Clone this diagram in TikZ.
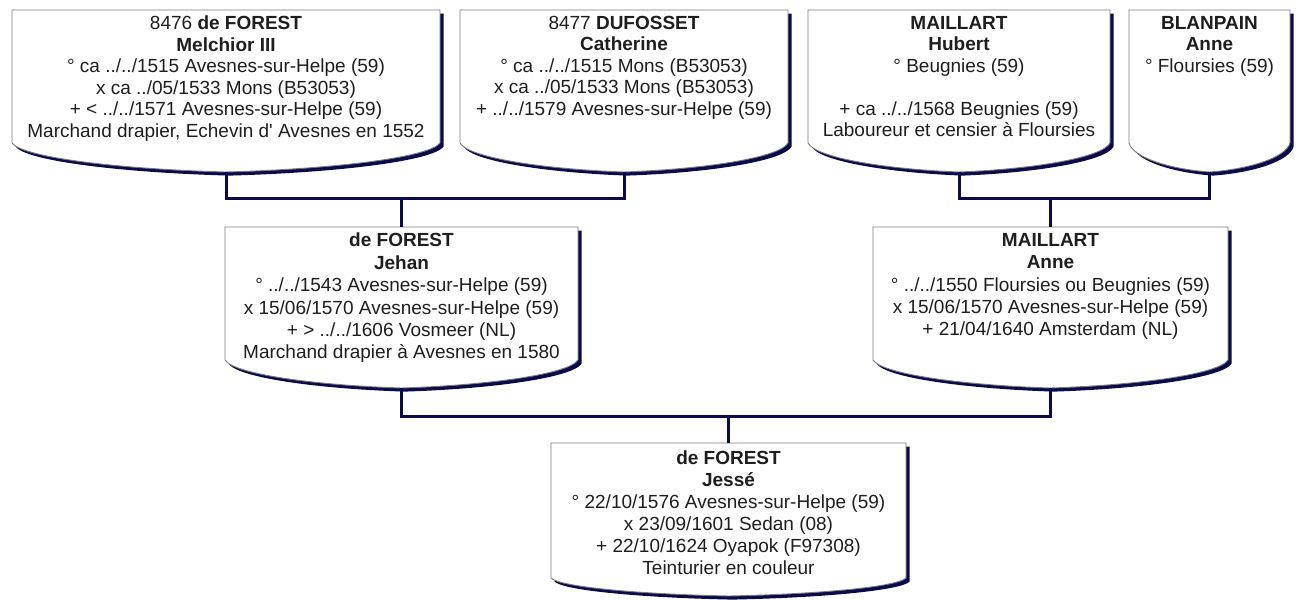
\documentclass[tikz,border=0pt]{standalone}
\usepackage{fontspec}
\setmainfont{Liberation Sans}
\definecolor{navy}{HTML}{0B0B4A}
\definecolor{edge}{HTML}{7A7A7A}
\definecolor{ink}{HTML}{1E1E1E}
\tikzset{
  cardbox/.style={fill=white, draw=edge, line width=0.9pt,
    preaction={fill=navy, transform canvas={shift={(3.6pt,-3.6pt)}}}},
  cardtext/.style={inner sep=0pt, align=center, anchor=north, text=ink},
  link/.style={draw=navy, line width=3pt}
}
% #1 id, #2 L, #3 R, #4 T, #5 side bottom, #6 point, #7 text top, #8 baselineskip, #9 text
\newcommand\famcard[9]{%
  \pgfmathsetmacro\cC{(#2+#3)/2}%
  \pgfmathsetmacro\cH{(#3-#2)/2}%
  \pgfmathsetmacro\cD{#6-#5}%
  \path[cardbox] (#2,#4) -- (#3,#4) -- (#3,#5)
    .. controls ({#3-0.05*\cH},{#5+0.5*\cD}) and ({\cC+0.5*\cH},{#5+0.9*\cD}) .. (\cC,#6)
    .. controls ({\cC-0.5*\cH},{#5+0.9*\cD}) and ({#2+0.05*\cH},{#5+0.5*\cD}) .. (#2,#5) -- cycle;
  \coordinate (#1-t) at (\cC,#4);
  \coordinate (#1-b) at (\cC,#6);
  \node[cardtext, font={\fontsize{19}{#8}\selectfont}] (#1) at (\cC,#7) {#9};
}
\begin{document}
\begin{tikzpicture}[x=1pt,y=-1pt]
\useasboundingbox[fill=white] (0,0) rectangle (1297,601);
% row 1
\famcard{melchior}{12}{440}{10}{143}{172}{16}{21.5}{8476 \textbf{de FOREST}\\ \textbf{Melchior III}\\ ° ca ../../1515 Avesnes-sur-Helpe (59)\\ x ca ../05/1533 Mons (B53053)\\ + < ../../1571 Avesnes-sur-Helpe (59)\\ Marchand drapier, Echevin d\textquotesingle{} Avesnes en 1552}
\famcard{catherine}{460}{788}{10}{143}{172}{16}{21.5}{8477 \textbf{DUFOSSET}\\ \textbf{Catherine}\\ ° ca ../../1515 Mons (B53053)\\ x ca ../05/1533 Mons (B53053)\\ + ../../1579 Avesnes-sur-Helpe (59)}
\famcard{hubert}{808}{1110}{10}{143}{172}{16}{21.5}{\textbf{MAILLART}\\ \textbf{Hubert}\\ ° Beugnies (59)\\ \mbox{}\\ + ca ../../1568 Beugnies (59)\\ Laboureur et censier à Floursies}
\famcard{blanpain}{1129}{1290}{10}{143}{172}{16}{21.5}{\textbf{BLANPAIN}\\ \textbf{Anne}\\ ° Floursies (59)}
% row 2
\famcard{jehan}{225}{578}{227}{360}{388}{233}{22.4}{\textbf{de FOREST}\\ \textbf{Jehan}\\ ° ../../1543 Avesnes-sur-Helpe (59)\\ x 15/06/1570 Avesnes-sur-Helpe (59)\\ + > ../../1606 Vosmeer (NL)\\ Marchand drapier à Avesnes en 1580}
\famcard{anne}{873}{1228}{227}{360}{388}{233}{22.4}{\textbf{MAILLART}\\ \textbf{Anne}\\ ° ../../1550 Floursies ou Beugnies (59)\\ x 15/06/1570 Avesnes-sur-Helpe (59)\\ + 21/04/1640 Amsterdam (NL)}
% row 3
\famcard{jesse}{551}{906}{443}{578}{596}{451}{22}{\textbf{de FOREST}\\ \textbf{Jessé}\\ ° 22/10/1576 Avesnes-sur-Helpe (59)\\ x 23/09/1601 Sedan (08)\\ + 22/10/1624 Oyapok (F97308)\\ Teinturier en couleur}
% junction points
\coordinate (j1) at (jehan-t |- 0,199);
\coordinate (j2) at (anne-t |- 0,199);
\coordinate (j3) at (jesse-t |- 0,416);
% connectors
\draw[link] (melchior-b) |- (j1) -| (catherine-b);
\draw[link] (j1) -- (jehan-t);
\draw[link] (hubert-b) |- (j2) -| (blanpain-b);
\draw[link] (j2) -- (anne-t);
\draw[link] (jehan-b) |- (j3) -| (anne-b);
\draw[link] (j3) -- (jesse-t);
\end{tikzpicture}
\end{document}
